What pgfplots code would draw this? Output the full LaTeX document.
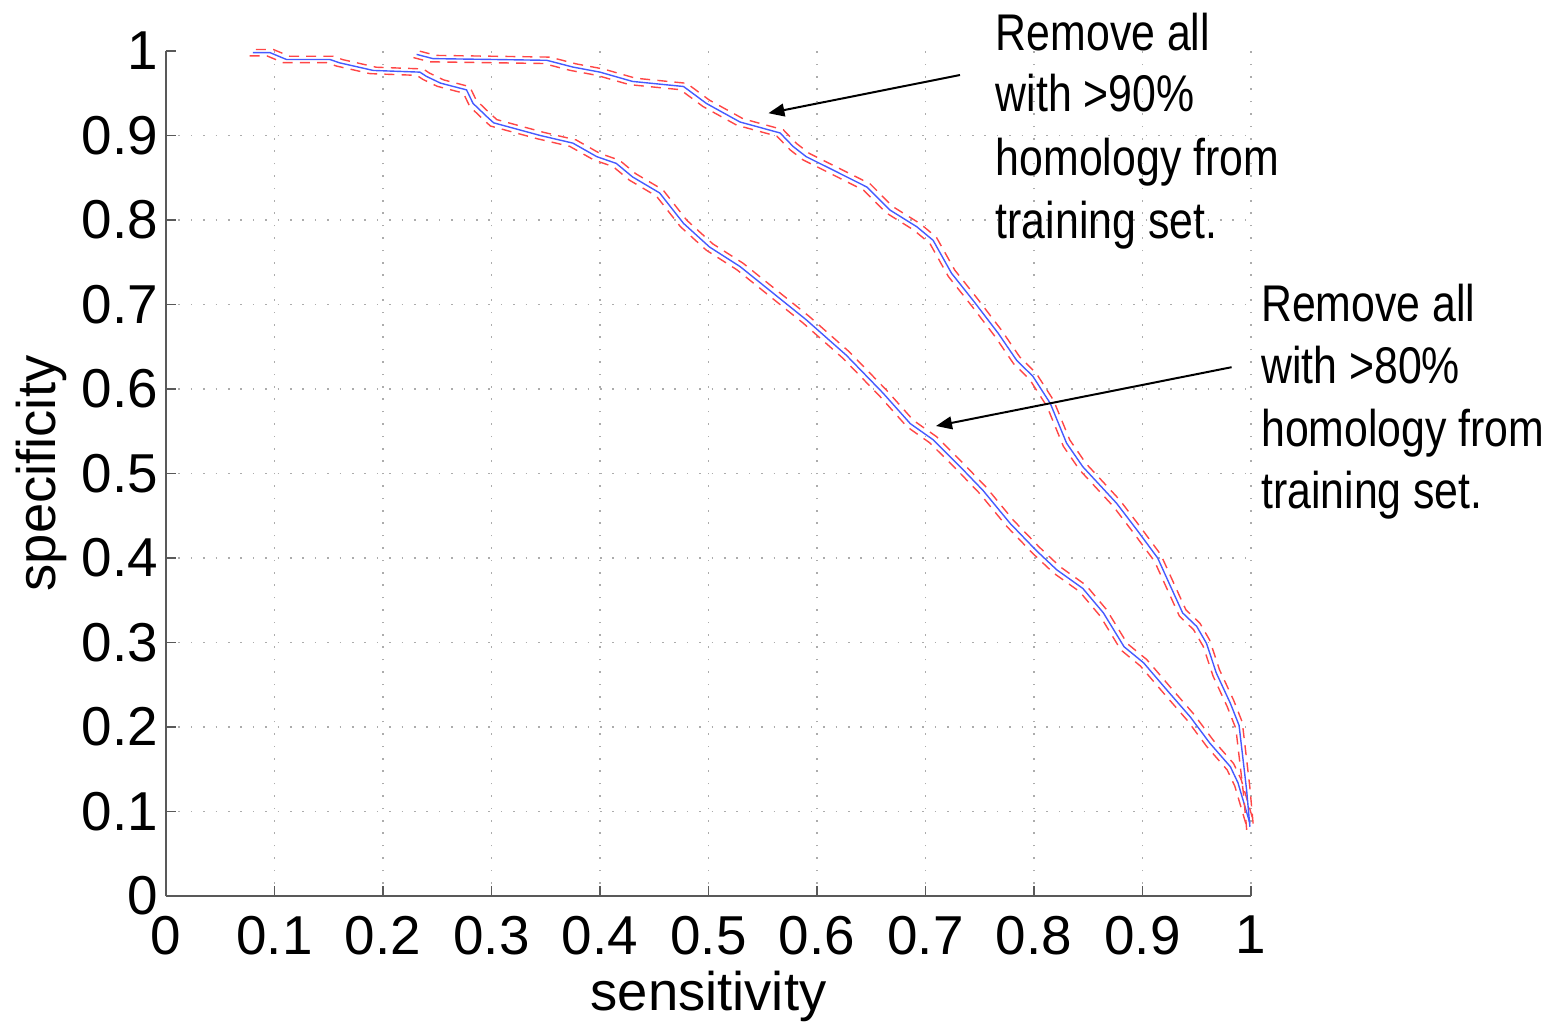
\documentclass[border=0pt]{standalone}
\usepackage{fontspec}
\setmainfont{Liberation Sans}
\newfontfamily\narrowfont[FakeStretch=0.83]{Liberation Sans}
\usepackage{pgfplots}
\usepackage{pgfplotstable}
\pgfplotsset{compat=1.18}
\usetikzlibrary{arrows.meta}
\definecolor{cblue}{RGB}{70,90,255}
\definecolor{cred}{RGB}{255,70,70}

\pgfplotstableread{
x y
0.080 0.998
0.096 0.998
0.111 0.990
0.151 0.990
0.160 0.986
0.191 0.977
0.234 0.975
0.240 0.970
0.253 0.962
0.277 0.954
0.283 0.938
0.296 0.922
0.302 0.915
0.345 0.900
0.375 0.891
0.397 0.875
0.415 0.867
0.430 0.851
0.455 0.832
0.477 0.796
0.501 0.768
0.529 0.745
0.560 0.713
0.590 0.682
0.627 0.640
0.661 0.595
0.686 0.559
0.707 0.540
0.732 0.508
0.753 0.480
0.778 0.441
0.802 0.409
0.821 0.386
0.845 0.364
0.864 0.335
0.883 0.295
0.901 0.276
0.925 0.240
0.944 0.212
0.962 0.181
0.981 0.153
0.988 0.134
0.999 0.086
}\lowcurve

\pgfplotstableread{
x y
0.231 0.996
0.246 0.991
0.300 0.990
0.351 0.989
0.375 0.981
0.400 0.975
0.430 0.964
0.477 0.958
0.498 0.938
0.529 0.916
0.566 0.903
0.578 0.887
0.590 0.875
0.615 0.859
0.646 0.839
0.667 0.812
0.692 0.792
0.707 0.776
0.724 0.737
0.745 0.703
0.767 0.666
0.784 0.634
0.799 0.615
0.815 0.583
0.830 0.536
0.845 0.508
0.876 0.465
0.895 0.433
0.914 0.400
0.926 0.366
0.937 0.335
0.950 0.319
0.959 0.299
0.968 0.264
0.981 0.228
0.989 0.202
0.996 0.125
0.999 0.082
}\highcurve

\begin{document}
\begin{tikzpicture}
\begin{axis}[
  scale only axis, width=271.25pt, height=211.25pt,
  xmin=0, xmax=1, ymin=0, ymax=1,
  axis x line*=bottom, axis y line*=left,
  xtick={0,0.1,0.2,0.3,0.4,0.5,0.6,0.7,0.8,0.9,1},
  xticklabels={0,0.1,0.2,0.3,0.4,0.5,0.6,0.7,0.8,0.9,1},
  ytick={0,0.1,0.2,0.3,0.4,0.5,0.6,0.7,0.8,0.9},
  yticklabels={0,0.1,0.2,0.3,0.4,0.5,0.6,0.7,0.8,0.9},
  extra y ticks={1}, extra y tick labels={1},
  extra y tick style={grid=none},
  grid=major,
  major grid style={gray!65, line width=0.4pt, dash pattern=on 0.4pt off 2.7pt},
  tick align=inside, major tick length=2.5pt,
  axis line style={black!65, line width=0.4pt},
  every tick/.style={black!65, line width=0.4pt},
  tick label style={font=\fontsize{13.7}{15.5}\selectfont},
  xticklabel style={yshift=-1.5pt},
  yticklabel style={xshift=1.5pt},
  label style={font=\fontsize{13.6}{16}\selectfont},
  xlabel={sensitivity}, ylabel={specificity},
  xlabel style={at={(axis description cs:0.5,-0.1349)}, anchor=base},
  ylabel style={at={(axis description cs:-0.1023,0.5)}, anchor=base},
  clip=false,
]
\addplot[cred, line width=0.35pt, dash pattern=on 2.5pt off 1.8pt, xshift=0.8pt, yshift=0.8pt] table[x=x,y=y] {\lowcurve};
\addplot[cred, line width=0.35pt, dash pattern=on 2.5pt off 1.8pt, xshift=-0.8pt, yshift=-0.8pt] table[x=x,y=y] {\lowcurve};
\addplot[cblue, line width=0.35pt] table[x=x,y=y] {\lowcurve};
\addplot[cred, line width=0.35pt, dash pattern=on 2.5pt off 1.8pt, xshift=0.8pt, yshift=0.8pt] table[x=x,y=y] {\highcurve};
\addplot[cred, line width=0.35pt, dash pattern=on 2.5pt off 1.8pt, xshift=-0.8pt, yshift=-0.8pt] table[x=x,y=y] {\highcurve};
\addplot[cblue, line width=0.35pt] table[x=x,y=y] {\highcurve};
\end{axis}
\begin{scope}[every node/.style={anchor=base west, inner sep=0pt, font=\narrowfont\fontsize{12.9}{15.6}\selectfont}]
\node at (207.25pt,211.5pt) {Remove all};
\node at (207.25pt,196.1pt) {with >90\%};
\node at (207.25pt,180.25pt) {homology from};
\node at (207.25pt,164.5pt) {training set.};
\node at (273.6pt,143.6pt) {Remove all};
\node at (273.6pt,128.2pt) {with >80\%};
\node at (273.6pt,112.3pt) {homology from};
\node at (273.6pt,96.9pt) {training set.};
\end{scope}
\draw[line width=0.5pt, -{Triangle[length=4pt,width=3.2pt]}] (198.5pt,205.25pt) -- (150.6pt,195.7pt);
\draw[line width=0.5pt, -{Triangle[length=4pt,width=3.2pt]}] (266.4pt,132.2pt) -- (192.5pt,117.5pt);
\pgfresetboundingbox
\path (-41.5pt,-31.25pt) rectangle (347.5pt,224pt);
\end{tikzpicture}
\end{document}
